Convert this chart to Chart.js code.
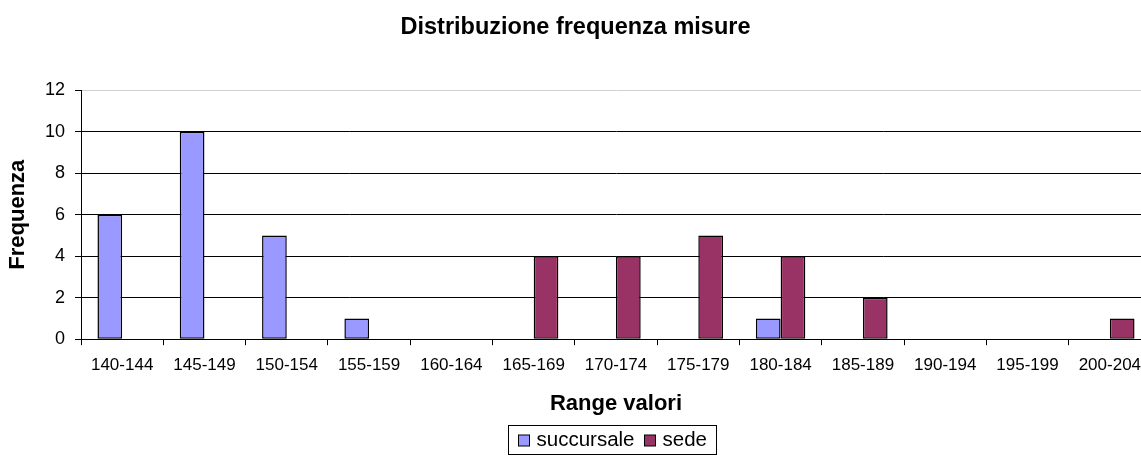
<!DOCTYPE html>
<html>
<head>
<meta charset="utf-8">
<script src="https://cdn.jsdelivr.net/npm/chart.js@4/dist/chart.umd.min.js"></script>
<style>
html,body{margin:0;padding:0;background:#fff;overflow:hidden;}
#wrap{width:1166px;height:456px;position:relative;}
</style>
</head>
<body>
<div id="wrap"><canvas id="c"></canvas></div>
<script>
const categories = ['140-144','145-149','150-154','155-159','160-164','165-169','170-174','175-179','180-184','185-189','190-194','195-199','200-204'];
const succursale = [6,10,5,1,0,0,0,0,1,0,0,0,0];
const sede = [0,0,0,0,0,4,4,5,4,2,0,0,1];
const seriesNames = ['succursale','sede'];
const yMin = 0, yMax = 12, yStep = 2;

const FONT = "'Liberation Sans', Arial, sans-serif";

const legendPlugin = {
  id: 'boxLegend',
  afterDraw(chart) {
    const ctx = chart.ctx;
    const ds = chart.data.datasets;
    ctx.save();
    ctx.font = '20.5px ' + FONT;
    const sq = 11, gap = 7, itemGap = 10, padL = 10, padR = 10;
    let total = padL + padR;
    const widths = ds.map(d => ctx.measureText(d.label).width);
    widths.forEach((w, i) => { total += sq + gap + w + (i < ds.length - 1 ? itemGap : 0); });
    const cx = (chart.chartArea.left + chart.chartArea.right) / 2 - 3.5;
    const top = 425, h = 29;
    let x = Math.round(cx - total / 2) + 0.5;
    ctx.strokeStyle = '#000';
    ctx.lineWidth = 1;
    ctx.strokeRect(x, top + 0.5, Math.round(total), h);
    let px = x + padL;
    const midY = top + h / 2 + 1;
    ds.forEach((d, i) => {
      ctx.fillStyle = d.backgroundColor;
      ctx.fillRect(px, midY - sq / 2, sq, sq);
      ctx.strokeStyle = '#000';
      ctx.strokeRect(px, midY - sq / 2, sq, sq);
      px += sq + gap;
      ctx.fillStyle = '#000';
      ctx.textBaseline = 'middle';
      ctx.textAlign = 'left';
      ctx.fillText(d.label, px, midY);
      px += widths[i] + itemGap;
    });
    ctx.restore();
  }
};

const zeroNoBorder = c => (c.raw === 0 ? 0 : 1.5);

new Chart(document.getElementById('c'), {
  type: 'bar',
  data: {
    labels: categories,
    datasets: [
      { label: seriesNames[0], data: succursale, backgroundColor: '#9999FF', borderColor: '#000', borderWidth: zeroNoBorder, borderSkipped: false },
      { label: seriesNames[1], data: sede, backgroundColor: '#993366', borderColor: '#000', borderWidth: zeroNoBorder, borderSkipped: false }
    ]
  },
  plugins: [legendPlugin],
  options: {
    responsive: true,
    maintainAspectRatio: false,
    animation: false,
    categoryPercentage: 0.6,
    barPercentage: 1.0,
    layout: { padding: { left: 0, right: 15, top: 0, bottom: 39 } },
    plugins: {
      legend: { display: false },
      tooltip: { enabled: false },
      title: {
        display: true,
        text: 'Distribuzione frequenza misure',
        color: '#000',
        font: { family: FONT, size: 23.5, weight: 'bold' },
        padding: { top: 13, bottom: 49 }
      }
    },
    scales: {
      x: {
        ticks: { color: '#000', font: { family: FONT, size: 17 }, autoSkip: false, maxRotation: 0, padding: 10 },
        grid: { display: true, drawOnChartArea: false, drawTicks: true, tickLength: 6, color: '#000', offset: true },
        border: { display: true, color: '#000', width: 1 },
        title: { display: true, text: 'Range valori', color: '#000', font: { family: FONT, size: 22, weight: 'bold' }, padding: { top: 5, bottom: 0 } }
      },
      y: {
        min: yMin, max: yMax,
        ticks: { stepSize: yStep, color: '#000', font: { family: FONT, size: 18 }, padding: 10 },
        grid: { color: c => (c.tick && c.tick.value === yMax ? '#d0d0d0' : '#000'), drawTicks: true, tickLength: 6, tickColor: '#000' },
        border: { display: true, color: '#000', width: 1 },
        title: { display: true, text: 'Frequenza', color: '#000', font: { family: FONT, size: 22, weight: 'bold' }, padding: { top: 5, bottom: 8 } },
        afterFit(scale) { scale.width = 81; }
      }
    }
  }
});
</script>
</body>
</html>
